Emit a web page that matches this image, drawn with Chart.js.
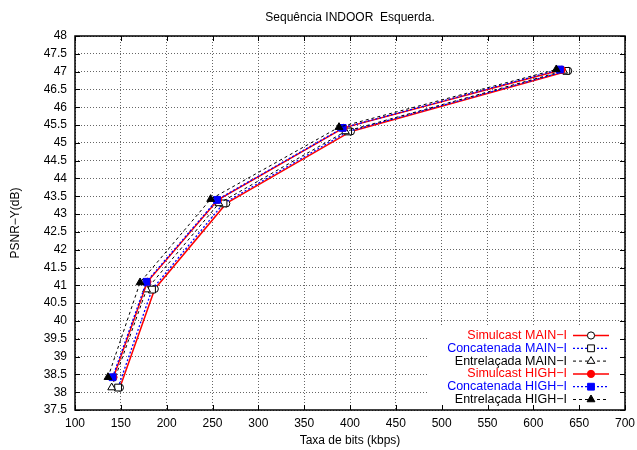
<!DOCTYPE html>
<html><head><meta charset="utf-8">
<script src="https://cdn.jsdelivr.net/npm/chart.js@4/dist/chart.umd.min.js"></script>
<style>html,body{margin:0;padding:0;background:#fff}</style>
</head><body>
<canvas id="c" width="637" height="450"></canvas>
<script>
// ---- data ----
const titleText = 'Sequência INDOOR  Esquerda.';
const xTitle = 'Taxa de bits (kbps)';
const yTitle = 'PSNR−Y(dB)';
const xTickValues = [100,150,200,250,300,350,400,450,500,550,600,650,700];
const xTickLabels = ['100','150','200','250','300','350','400','450','500','550','600','650','700'];
const yTickValues = [37.5,38,38.5,39,39.5,40,40.5,41,41.5,42,42.5,43,43.5,44,44.5,45,45.5,46,46.5,47,47.5,48];
const yTickLabels = ['37.5','38','38.5','39','39.5','40','40.5','41','41.5','42','42.5','43','43.5','44','44.5','45','45.5','46','46.5','47','47.5','48'];

const seriesNames = ['Simulcast MAIN−I','Concatenada MAIN−I','Entrelaçada MAIN−I','Simulcast HIGH−I','Concatenada HIGH−I','Entrelaçada HIGH−I'];

const simulcastMainX = [149, 187, 265, 401, 638];
const simulcastMainY = [38.13, 40.90, 43.30, 45.32, 47.02];
const concatMainX = [147, 184, 262, 398, 636];
const concatMainY = [38.13, 40.88, 43.30, 45.32, 47.02];
const entreMainX = [140, 178, 257, 395, 633];
const entreMainY = [38.13, 40.88, 43.30, 45.32, 47.02];
const simulcastHighX = [142, 179, 256, 393, 631];
const simulcastHighY = [38.42, 41.10, 43.40, 45.42, 47.05];
const concatHighX = [141, 178, 255, 392, 629];
const concatHighY = [38.42, 41.10, 43.40, 45.42, 47.06];
const entreHighX = [136, 171, 248, 388, 625];
const entreHighY = [38.42, 41.08, 43.42, 45.44, 47.06];

// ---- styles ----
const RED = '#ff0000', BLUE = '#0000ff', BLACK = '#000000';
const xs = [simulcastMainX, concatMainX, entreMainX, simulcastHighX, concatHighX, entreHighX];
const ys = [simulcastMainY, concatMainY, entreMainY, simulcastHighY, concatHighY, entreHighY];
const styles = [
  {color: RED,   dash: [],    width: 1.5, point: 'circle',   r: 3.6, fill: '#fff', stroke: BLACK},
  {color: BLUE,  dash: [2,2], width: 1.3, point: 'rect',     r: 4.8, fill: '#fff', stroke: BLACK},
  {color: BLACK, dash: [3,3], width: 1,   point: 'triangle', r: 4.5, fill: '#fff', stroke: BLACK},
  {color: RED,   dash: [],    width: 1.5, point: 'circle',   r: 3.6, fill: RED,    stroke: RED},
  {color: BLUE,  dash: [2,2], width: 1.3, point: 'rect',     r: 4.8, fill: BLUE,   stroke: BLUE},
  {color: BLACK, dash: [3,3], width: 1,   point: 'triangle', r: 4.5, fill: BLACK,  stroke: BLACK}
];

const datasets = seriesNames.map((name, i) => ({
  label: name,
  data: xs[i].map((x, k) => ({x: x, y: ys[i][k]})),
  showLine: true,
  borderColor: styles[i].color,
  borderWidth: styles[i].width,
  borderDash: styles[i].dash,
  pointStyle: styles[i].point,
  pointRadius: styles[i].r,
  pointBackgroundColor: styles[i].fill,
  pointBorderColor: styles[i].stroke,
  pointBorderWidth: 1,
  tension: 0,
  order: 6 - i
}));

const FONT = '"Liberation Sans", Arial, Helvetica, sans-serif';
Chart.defaults.font.family = FONT;
Chart.defaults.font.size = 12;
Chart.defaults.color = '#000';

function drawMarker(ctx, st, x, y) {
  ctx.save();
  ctx.setLineDash([]);
  ctx.lineWidth = 1;
  ctx.fillStyle = st.fill;
  ctx.strokeStyle = st.stroke;
  ctx.beginPath();
  if (st.point === 'circle') {
    ctx.arc(x, y, st.r, 0, Math.PI * 2);
  } else if (st.point === 'rect') {
    const s = st.r * Math.SQRT1_2;
    ctx.rect(x - s, y - s, 2 * s, 2 * s);
  } else {
    const r = st.r;
    ctx.moveTo(x, y - r);
    ctx.lineTo(x + r * 0.866, y + r * 0.5);
    ctx.lineTo(x - r * 0.866, y + r * 0.5);
    ctx.closePath();
  }
  ctx.fill();
  ctx.stroke();
  ctx.restore();
}

const keyPlugin = {
  id: 'gnukey',
  afterDatasetsDraw(chart) {
    const ctx = chart.ctx;
    ctx.save();
    ctx.fillStyle = '#fff';
    ctx.fillRect(429, 327, 195, 82);
    ctx.font = '12.5px ' + FONT;
    ctx.textAlign = 'right';
    ctx.textBaseline = 'middle';
    const textColors = [RED, BLUE, BLACK, RED, BLUE, BLACK];
    chart.data.datasets.forEach((ds, i) => {
      const y = 335.5 + i * 12.8;
      ctx.fillStyle = textColors[i];
      ctx.fillText(ds.label, 567, y);
      ctx.save();
      ctx.strokeStyle = ds.borderColor;
      ctx.lineWidth = ds.borderWidth;
      ctx.setLineDash(ds.borderDash);
      ctx.beginPath();
      ctx.moveTo(573, y);
      ctx.lineTo(609, y);
      ctx.stroke();
      ctx.restore();
      drawMarker(ctx, styles[i], 591, y);
    });
    ctx.restore();
  },
  afterDraw(chart) {
    const ctx = chart.ctx;
    const a = chart.chartArea;
    const sx = chart.scales.x, sy = chart.scales.y;
    ctx.save();
    ctx.strokeStyle = '#000';
    ctx.lineWidth = 1;
    ctx.setLineDash([]);
    ctx.beginPath();
    const L = 5;
    xTickValues.forEach(v => {
      const px = Math.round(sx.getPixelForValue(v)) + 0.5;
      ctx.moveTo(px, a.bottom); ctx.lineTo(px, a.bottom - L);
      ctx.moveTo(px, a.top); ctx.lineTo(px, a.top + L);
    });
    yTickValues.forEach(v => {
      const py = Math.round(sy.getPixelForValue(v)) + 0.5;
      ctx.moveTo(a.left, py); ctx.lineTo(a.left + L, py);
      ctx.moveTo(a.right, py); ctx.lineTo(a.right - L, py);
    });
    ctx.stroke();
    ctx.lineWidth = 1.5;
    ctx.strokeRect(a.left, a.top, a.right - a.left, a.bottom - a.top);
    ctx.restore();
  }
};

new Chart(document.getElementById('c'), {
  type: 'scatter',
  data: {datasets},
  plugins: [keyPlugin],
  options: {
    responsive: false,
    animation: false,
    layout: {padding: {left: 0, right: 12, top: 0, bottom: 0}},
    plugins: {
      legend: {display: false},
      tooltip: {enabled: false},
      title: {display: true, text: titleText, fullSize: false, color: '#000',
              font: {size: 12, weight: 'normal', family: FONT}, padding: {top: 10, bottom: 11.6}}
    },
    scales: {
      x: {
        type: 'linear', min: 100, max: 700,
        afterBuildTicks(s) { s.ticks = xTickValues.map(v => ({value: v})); },
        ticks: {autoSkip: false, maxRotation: 0, padding: 6, color: '#000',
                callback: (v) => xTickLabels[xTickValues.indexOf(v)]},
        grid: {color: 'rgba(0,0,0,0.6)', drawTicks: false, lineWidth: 1},
        border: {display: false, dash: [1, 2]},
        title: {display: true, text: xTitle, color: '#000', padding: {top: 2, bottom: 2}},
        afterFit(s) { s.height = 40; s.paddingRight = 0; s.paddingLeft = 0; }
      },
      y: {
        type: 'linear', min: 37.5, max: 48,
        afterBuildTicks(s) { s.ticks = yTickValues.map(v => ({value: v})); },
        ticks: {autoSkip: false, padding: 8, color: '#000',
                callback: (v) => yTickLabels[yTickValues.indexOf(v)]},
        grid: {color: 'rgba(0,0,0,0.6)', drawTicks: false, lineWidth: 1},
        border: {display: false, dash: [1, 2]},
        title: {display: true, text: yTitle, color: '#000', padding: {top: 8, bottom: 2}},
        afterFit(s) { s.width = 75; s.paddingTop = 0; s.paddingBottom = 0; }
      }
    }
  }
});
</script>
</body></html>
